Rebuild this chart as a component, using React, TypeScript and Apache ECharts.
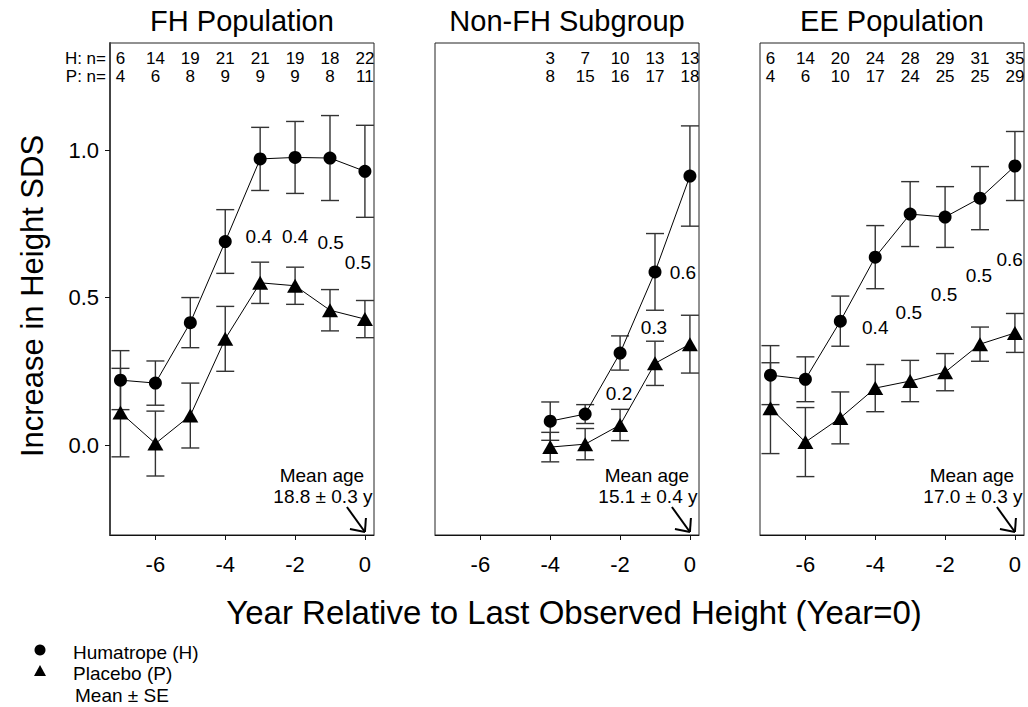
import React, { useEffect, useRef } from "react";
import * as echarts from "echarts";

const FONT = "Liberation Sans, Arial, Helvetica, sans-serif";

// ---------- data ----------
const xTickValues = [-6, -4, -2, 0];
const yTickValues = [0, 0.5, 1.0];

// FH Population
const fhYears = [-7, -6, -5, -4, -3, -2, -1, 0];
const fhH = [0.22, 0.21, 0.415, 0.69, 0.97, 0.975, 0.973, 0.928];
const fhHse = [0.1, 0.075, 0.085, 0.108, 0.107, 0.122, 0.144, 0.156];
const fhP = [0.11, 0.005, 0.1, 0.36, 0.55, 0.54, 0.457, 0.427];
const fhPse = [0.15, 0.11, 0.11, 0.11, 0.07, 0.063, 0.07, 0.063];
const fhNH = [6, 14, 19, 21, 21, 19, 18, 22];
const fhNP = [4, 6, 8, 9, 9, 9, 8, 11];
const fhDiffX = [-3.04, -2.0, -0.98, -0.2];
const fhDiffY = [0.708, 0.708, 0.688, 0.62];
const fhDiffText = ["0.4", "0.4", "0.5", "0.5"];

// Non-FH Subgroup
const nfhYears = [-4, -3, -2, -1, 0];
const nfhH = [0.081, 0.105, 0.312, 0.587, 0.912];
const nfhHse = [0.065, 0.032, 0.058, 0.13, 0.17];
const nfhP = [-0.007, 0.003, 0.068, 0.277, 0.342];
const nfhPse = [0.05, 0.053, 0.053, 0.075, 0.098];
const nfhNH = [3, 7, 10, 13, 13];
const nfhNP = [8, 15, 16, 17, 18];
const nfhDiffX = [-2.03, -1.03, -0.2];
const nfhDiffY = [0.176, 0.397, 0.586];
const nfhDiffText = ["0.2", "0.3", "0.6"];

// EE Population
const eeYears = [-7, -6, -5, -4, -3, -2, -1, 0];
const eeH = [0.237, 0.223, 0.42, 0.637, 0.783, 0.773, 0.837, 0.946];
const eeHse = [0.1, 0.076, 0.085, 0.107, 0.11, 0.103, 0.107, 0.117];
const eeP = [0.125, 0.01, 0.092, 0.193, 0.217, 0.247, 0.342, 0.38];
const eePse = [0.154, 0.117, 0.088, 0.08, 0.07, 0.063, 0.058, 0.066];
const eeNH = [6, 14, 20, 24, 28, 29, 31, 35];
const eeNP = [4, 6, 10, 17, 24, 25, 25, 29];
const eeDiffX = [-4.0, -3.04, -2.03, -1.03, -0.15];
const eeDiffY = [0.397, 0.451, 0.512, 0.576, 0.63];
const eeDiffText = ["0.4", "0.5", "0.5", "0.5", "0.6"];

const panelTitles = ["FH Population", "Non-FH Subgroup", "EE Population"];
const meanAges = ["18.8 ± 0.3 y", "15.1 ± 0.4 y", "17.0 ± 0.3 y"];

// ---------- layout ----------
const GRID_LEFTS = [110, 435, 760];
const GRID_TOP = 43;
const GRID_W = 264;
const GRID_H = 492;
const X_MIN = -7.3;
const X_MAX = 0.26;
const Y_MIN = -0.305;
const Y_MAX = 1.363;
const N_FONT = 17;
const N_ROW1 = 15.5;
const N_ROW2 = 33;

const panels = [
  { years: fhYears, h: fhH, hse: fhHse, p: fhP, pse: fhPse, nH: fhNH, nP: fhNP, dx: fhDiffX, dy: fhDiffY, dt: fhDiffText },
  { years: nfhYears, h: nfhH, hse: nfhHse, p: nfhP, pse: nfhPse, nH: nfhNH, nP: nfhNP, dx: nfhDiffX, dy: nfhDiffY, dt: nfhDiffText },
  { years: eeYears, h: eeH, hse: eeHse, p: eeP, pse: eePse, nH: eeNH, nP: eeNP, dx: eeDiffX, dy: eeDiffY, dt: eeDiffText },
];

function errorBarRender(params: any, api: any) {
  const x = api.value(0);
  const lo = api.value(1);
  const hi = api.value(2);
  const pLo = api.coord([x, lo]);
  const pHi = api.coord([x, hi]);
  const hw = 9;
  const style = { stroke: "#333", lineWidth: 1.4 };
  return {
    type: "group",
    children: [
      { type: "line", shape: { x1: pLo[0], y1: pLo[1], x2: pHi[0], y2: pHi[1] }, style },
      { type: "line", shape: { x1: pLo[0] - hw, y1: pLo[1], x2: pLo[0] + hw, y2: pLo[1] }, style },
      { type: "line", shape: { x1: pHi[0] - hw, y1: pHi[1], x2: pHi[0] + hw, y2: pHi[1] }, style },
    ],
  };
}

function nText(text: string, x: number, y: number, align: string) {
  return {
    type: "text",
    x,
    y,
    style: {
      text,
      fontSize: N_FONT,
      lineHeight: N_FONT,
      fontFamily: FONT,
      fill: "#000",
      align,
      verticalAlign: "middle",
    },
  };
}

export default function App() {
  const ref = useRef<HTMLDivElement>(null);

  useEffect(() => {
    if (!ref.current) return;
    const chart = echarts.init(ref.current, null, { renderer: "svg" });

    const grid: any[] = [];
    const xAxis: any[] = [];
    const yAxis: any[] = [];
    const series: any[] = [];

    panels.forEach((pn, i) => {
      grid.push({
        left: GRID_LEFTS[i],
        top: GRID_TOP,
        width: GRID_W,
        height: GRID_H,
        show: true,
        borderColor: "#222",
        borderWidth: 1,
        backgroundColor: "transparent",
      });
      xAxis.push({
        gridIndex: i,
        type: "value",
        min: X_MIN,
        max: X_MAX,
        splitLine: { show: false },
        axisLine: { show: true, onZero: false, lineStyle: { color: "#111", width: 1 } },
        axisTick: { show: true, length: 5, customValues: xTickValues, lineStyle: { color: "#111" } },
        axisLabel: {
          customValues: xTickValues,
          fontSize: 22,
          color: "#000",
          fontFamily: FONT,
          margin: 18,
        },
      });
      yAxis.push({
        gridIndex: i,
        type: "value",
        min: Y_MIN,
        max: Y_MAX,
        splitLine: { show: false },
        axisLine: { show: i === 0, onZero: false, lineStyle: { color: "#444", width: 2 } },
        axisTick: { show: i === 0, length: 5, customValues: yTickValues, lineStyle: { color: "#111" } },
        axisLabel: {
          show: i === 0,
          customValues: yTickValues,
          fontSize: 22,
          color: "#000",
          fontFamily: FONT,
          margin: 11,
          formatter: (v: number) => v.toFixed(1),
        },
      });

      const hErr = pn.years.map((x, k) => [x, pn.h[k] - pn.hse[k], pn.h[k] + pn.hse[k]]);
      const pErr = pn.years.map((x, k) => [x, pn.p[k] - pn.pse[k], pn.p[k] + pn.pse[k]]);

      series.push({
        type: "custom",
        xAxisIndex: i,
        yAxisIndex: i,
        renderItem: errorBarRender,
        encode: { x: 0, y: [1, 2] },
        data: hErr,
        z: 1,
      });
      series.push({
        type: "custom",
        xAxisIndex: i,
        yAxisIndex: i,
        renderItem: errorBarRender,
        encode: { x: 0, y: [1, 2] },
        data: pErr,
        z: 1,
      });
      series.push({
        type: "line",
        name: "Humatrope (H)",
        xAxisIndex: i,
        yAxisIndex: i,
        data: pn.years.map((x, k) => [x, pn.h[k]]),
        symbol: "circle",
        symbolSize: 13,
        showAllSymbol: true,
        lineStyle: { color: "#000", width: 1 },
        itemStyle: { color: "#000" },
        z: 3,
      });
      series.push({
        type: "line",
        name: "Placebo (P)",
        xAxisIndex: i,
        yAxisIndex: i,
        data: pn.years.map((x, k) => [x, pn.p[k]]),
        symbol: "triangle",
        symbolSize: [16, 14],
        showAllSymbol: true,
        lineStyle: { color: "#000", width: 1 },
        itemStyle: { color: "#000" },
        z: 3,
      });
      // n counts
      series.push({
        type: "custom",
        xAxisIndex: i,
        yAxisIndex: i,
        data: pn.years.map((x, k) => [x, pn.nH[k], pn.nP[k]]),
        encode: { x: 0 },
        z: 4,
        renderItem: (params: any, api: any) => {
          const x = api.value(0);
          const px = api.coord([x, 0])[0];
          const top = params.coordSys.y;
          return {
            type: "group",
            children: [
              nText(String(api.value(1)), px, top + N_ROW1, "center"),
              nText(String(api.value(2)), px, top + N_ROW2, "center"),
            ],
          };
        },
      });
      // difference labels
      series.push({
        type: "custom",
        xAxisIndex: i,
        yAxisIndex: i,
        data: pn.dx.map((x, k) => [x, pn.dy[k], k]),
        encode: { x: 0, y: 1 },
        z: 4,
        renderItem: (params: any, api: any) => {
          const c = api.coord([api.value(0), api.value(1)]);
          return {
            type: "text",
            x: c[0],
            y: c[1],
            style: {
              text: pn.dt[api.value(2)],
              fontSize: 19,
              lineHeight: 17,
              fontFamily: FONT,
              fill: "#000",
              align: "center",
              verticalAlign: "middle",
            },
          };
        },
      });
    });

    chart.setOption({
      animation: false,
      backgroundColor: "#fff",
      grid,
      xAxis,
      yAxis,
      series,
    });

    const graphic: any[] = [];
    panelTitles.forEach((t, i) => {
      graphic.push({
        type: "text",
        x: GRID_LEFTS[i] + GRID_W / 2,
        y: 21,
        style: { text: t, fontSize: 29, fontFamily: FONT, fill: "#000", align: "center", verticalAlign: "middle" },
      });
      const zero = chart.convertToPixel({ xAxisIndex: i, yAxisIndex: i } as any, [0, Y_MIN]) as number[];
      const tipX = zero[0];
      const tipY = zero[1] - 3;
      graphic.push({
        type: "text",
        x: tipX - 43,
        y: tipY - 57,
        style: { text: "Mean age", fontSize: 19, lineHeight: 19, fontFamily: FONT, fill: "#000", align: "center", verticalAlign: "middle" },
      });
      graphic.push({
        type: "text",
        x: tipX - 42,
        y: tipY - 36,
        style: { text: meanAges[i], fontSize: 19, lineHeight: 19, fontFamily: FONT, fill: "#000", align: "center", verticalAlign: "middle" },
      });
      const arrowStyle = { stroke: "#000", lineWidth: 2 };
      graphic.push({ type: "line", shape: { x1: tipX - 18, y1: tipY - 25, x2: tipX, y2: tipY }, style: arrowStyle });
      graphic.push({ type: "line", shape: { x1: tipX - 15, y1: tipY - 3, x2: tipX, y2: tipY }, style: arrowStyle });
      graphic.push({ type: "line", shape: { x1: tipX + 1, y1: tipY - 14, x2: tipX, y2: tipY }, style: arrowStyle });
    });

    // n= row labels
    graphic.push(nText("H: n=", 106, GRID_TOP + N_ROW1, "right"));
    graphic.push(nText("P: n=", 106, GRID_TOP + N_ROW2, "right"));

    // axis titles
    graphic.push({
      type: "text",
      x: 574,
      y: 612,
      style: { text: "Year Relative to Last Observed Height (Year=0)", fontSize: 33, fontFamily: FONT, fill: "#000", align: "center", verticalAlign: "middle" },
    });
    graphic.push({
      type: "text",
      x: 32,
      y: 296,
      rotation: Math.PI / 2,
      style: { text: "Increase in Height SDS", fontSize: 31, fontFamily: FONT, fill: "#000", align: "center", verticalAlign: "middle" },
    });

    // legend
    graphic.push({ type: "circle", shape: { cx: 40, cy: 650, r: 5.5 }, style: { fill: "#000" } });
    graphic.push({ type: "polygon", shape: { points: [[40, 665], [46, 676], [34, 676]] }, style: { fill: "#000" } });
    const legendText = (text: string, x: number, y: number) => ({
      type: "text",
      x,
      y,
      style: { text, fontSize: 19, lineHeight: 19, fontFamily: FONT, fill: "#000", align: "left", verticalAlign: "middle" },
    });
    graphic.push(legendText("Humatrope (H)", 73, 652));
    graphic.push(legendText("Placebo (P)", 73, 673));
    graphic.push(legendText("Mean ± SE", 75, 695));

    chart.setOption({ graphic });

    return () => {
      chart.dispose();
    };
  }, []);

  return (
    <div
      ref={ref}
      style={{ position: "absolute", left: 0, top: 0, width: 1028, height: 707, background: "#fff" }}
    />
  );
}
